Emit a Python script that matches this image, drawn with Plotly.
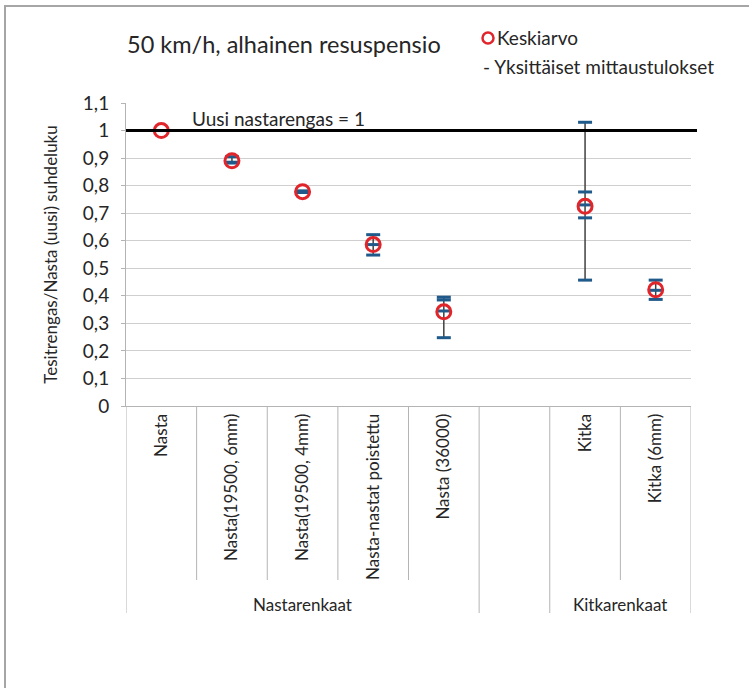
import plotly.graph_objects as go

# ---- data ----
categories = ["Nasta", "Nasta(19500, 6mm)", "Nasta(19500, 4mm)", "Nasta-nastat poistettu",
              "Nasta (36000)", "", "Kitka", "Kitka (6mm)"]
mean_values = [1.0, 0.89, 0.778, 0.586, 0.342, None, 0.725, 0.422]
individual_values = [
    [1.0],
    [0.905, 0.885, 0.882],
    [0.781, 0.775],
    [0.622, 0.586, 0.548],
    [0.395, 0.385, 0.345, 0.248],
    [],
    [1.03, 0.777, 0.73, 0.683, 0.457],
    [0.457, 0.42, 0.387],
]
group_labels = ["Nastarenkaat", "", "Kitkarenkaat"]
group_sizes = [5, 1, 2]
y_ticks = [0, 0.1, 0.2, 0.3, 0.4, 0.5, 0.6, 0.7, 0.8, 0.9, 1.0, 1.1]
y_ticktext = ["0", "0,1", "0,2", "0,3", "0,4", "0,5", "0,6", "0,7", "0,8", "0,9", "1", "1,1"]
reference_value = 1.0

FONT = "Lato"
TXT = "#262626"
RED = "#e0252b"
BLUE = "#1f5a8a"

xpos = [i + 0.5 for i in range(len(categories))]

# error bars from min to max
ex, ey, eplus, eminus = [], [], [], []
for x, m, vals in zip(xpos, mean_values, individual_values):
    if m is None or not vals:
        continue
    ex.append(x)
    ey.append(m)
    eplus.append(max(vals) - m)
    eminus.append(m - min(vals))

ix, iy = [], []
for x, vals in zip(xpos, individual_values):
    for v in vals:
        ix.append(x)
        iy.append(v)

fig = go.Figure()

fig.add_trace(go.Scatter(
    x=ex, y=ey, mode="markers",
    marker=dict(size=1, color="rgba(0,0,0,0)"),
    error_y=dict(type="data", symmetric=False, array=eplus, arrayminus=eminus,
                 color="#404040", thickness=1.5, width=0),
    showlegend=False, hoverinfo="skip"))

fig.add_trace(go.Scatter(
    x=ix, y=iy, mode="markers", name="Yksittäiset mittaustulokset",
    marker=dict(symbol="line-ew", size=10, line=dict(width=3, color=BLUE)),
    showlegend=False))

mx = [x for x, m in zip(xpos, mean_values) if m is not None]
my = [m for m in mean_values if m is not None]
fig.add_trace(go.Scatter(
    x=mx, y=my, mode="markers", name="Keskiarvo",
    marker=dict(symbol="circle-open", size=14, color=RED, line=dict(width=3, color=RED)),
    showlegend=False))

L, R, T, B = 126, 58, 103, 282
W, H = 749, 688
pw, ph = W - L - R, H - T - B

def px_to_paper_x(px):
    return (px - L) / pw

def px_to_paper_y(py):
    return (H - B - py) / ph

shapes = []
# reference line
shapes.append(dict(type="line", xref="paper", yref="y", x0=0, x1=px_to_paper_x(697),
                   y0=reference_value, y1=reference_value, line=dict(color="black", width=3)))

# category dividers
group_bounds = [0]
for s in group_sizes:
    group_bounds.append(group_bounds[-1] + s)
for b in range(len(categories) + 1):
    long = b in group_bounds
    shapes.append(dict(type="line", xref="x", yref="paper", x0=b, x1=b, y0=0,
                       y1=px_to_paper_y(613 if long else 580),
                       line=dict(color="#b4b4b4", width=1)))

# outer chart border
shapes.append(dict(type="rect", xref="paper", yref="paper",
                   x0=px_to_paper_x(5), x1=px_to_paper_x(760),
                   y0=px_to_paper_y(700), y1=px_to_paper_y(6),
                   line=dict(color="#a6a6a6", width=2)))

# legend circle
shapes.append(dict(type="circle", xref="paper", yref="paper", xsizemode="pixel", ysizemode="pixel",
                   xanchor=px_to_paper_x(488), yanchor=px_to_paper_y(38),
                   x0=-5.5, x1=5.5, y0=-5.5, y1=5.5, line=dict(color=RED, width=2.5)))

annotations = []
for g, (lab, s) in enumerate(zip(group_labels, group_sizes)):
    if not lab:
        continue
    center = (group_bounds[g] + group_bounds[g + 1]) / 2
    annotations.append(dict(text=lab, x=center, xref="x", y=px_to_paper_y(604), yref="paper",
                            showarrow=False, font=dict(family=FONT, size=17, color=TXT),
                            xanchor="center", yanchor="middle"))

annotations.append(dict(text="50 km/h, alhainen resuspensio", xref="paper", yref="paper",
                        x=px_to_paper_x(125), y=px_to_paper_y(44), showarrow=False,
                        xanchor="left", yanchor="middle",
                        font=dict(family=FONT, size=23.5, color=TXT)))
annotations.append(dict(text="Keskiarvo", xref="paper", yref="paper",
                        x=px_to_paper_x(495), y=px_to_paper_y(38), showarrow=False,
                        xanchor="left", yanchor="middle",
                        font=dict(family=FONT, size=19, color=TXT)))
annotations.append(dict(text="- Yksittäiset mittaustulokset", xref="paper", yref="paper",
                        x=px_to_paper_x(481), y=px_to_paper_y(66), showarrow=False,
                        xanchor="left", yanchor="middle",
                        font=dict(family=FONT, size=19, color=TXT)))
annotations.append(dict(text="Uusi nastarengas = 1", xref="paper", yref="paper",
                        x=px_to_paper_x(190), y=px_to_paper_y(118), showarrow=False,
                        xanchor="left", yanchor="middle",
                        font=dict(family=FONT, size=19, color=TXT)))

fig.update_layout(
    width=W, height=H,
    margin=dict(l=L, r=R, t=T, b=B, pad=0),
    paper_bgcolor="white", plot_bgcolor="white",
    showlegend=False,
    shapes=shapes, annotations=annotations,
    font=dict(family=FONT, color=TXT),
    xaxis=dict(range=[0, len(categories)], tickmode="array", tickvals=xpos, ticktext=categories,
               tickangle=-90, ticks="", showgrid=False, zeroline=False,
               showline=True, linecolor="#b4b4b4", linewidth=1,
               tickfont=dict(family=FONT, size=17, color=TXT)),
    yaxis=dict(range=[0, 1.1], tickmode="array", tickvals=y_ticks, ticktext=y_ticktext,
               showgrid=True, gridcolor="#cfcfcf", gridwidth=1, zeroline=False,
               showline=True, linecolor="#b4b4b4", linewidth=1,
               ticks="outside", ticklen=4, tickcolor="#b4b4b4", ticklabelstandoff=8,
               tickfont=dict(family=FONT, size=19, color=TXT),
               title=dict(text="Tesitrengas/Nasta (uusi) suhdeluku", standoff=20,
                          font=dict(family=FONT, size=17, color=TXT))),
)

fig.write_html("out.html", config={"displayModeBar": False},
               post_script="document.body.style.margin='0';")
